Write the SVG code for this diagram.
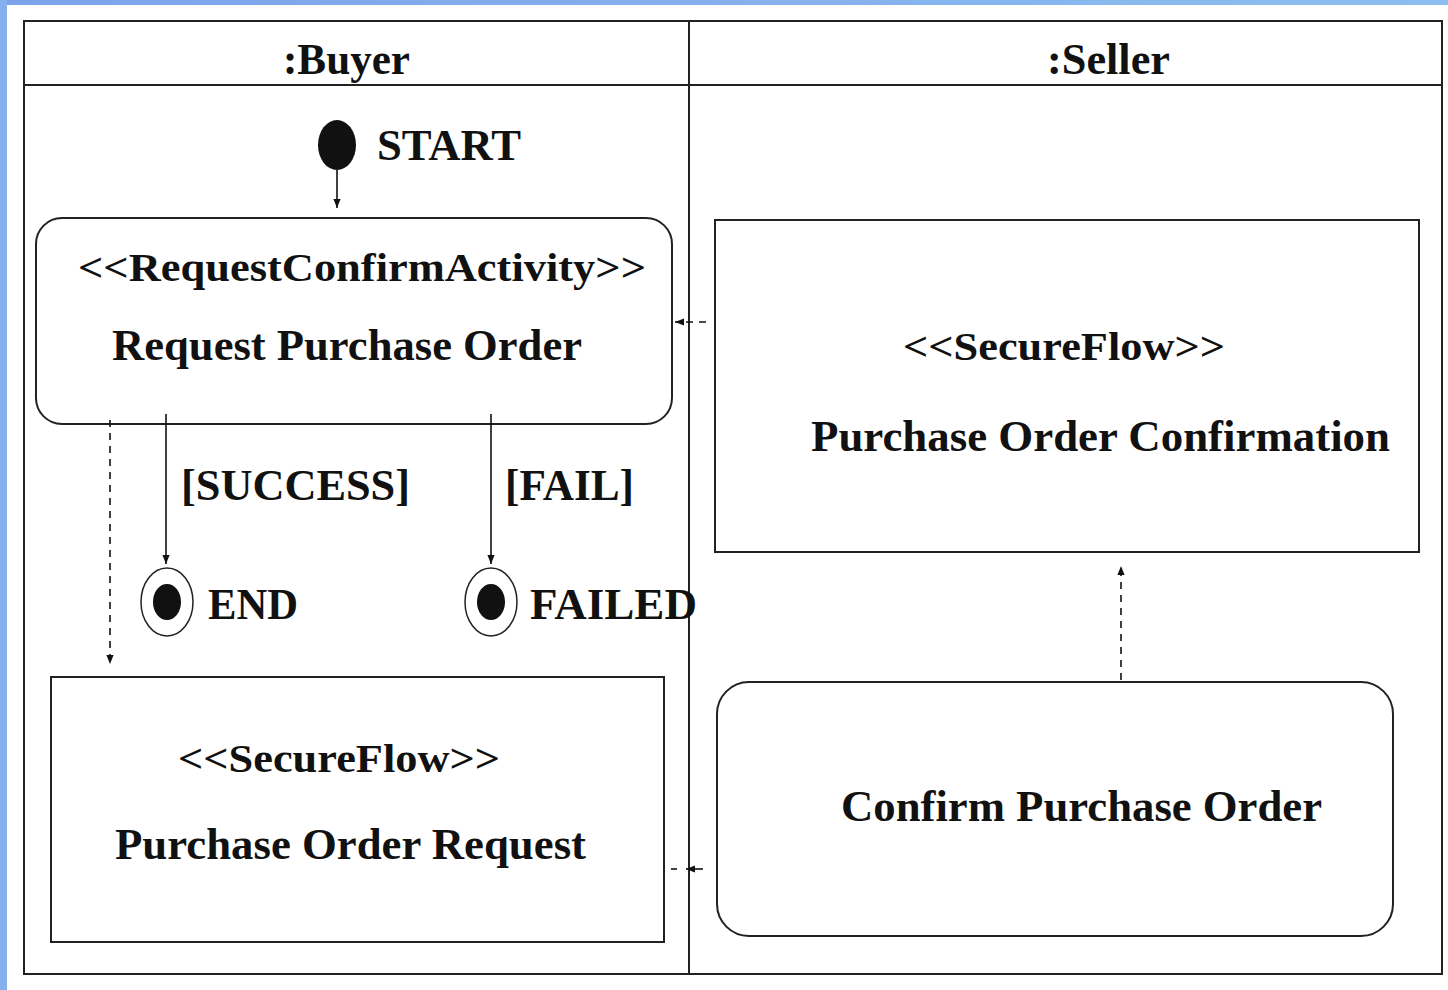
<svg xmlns="http://www.w3.org/2000/svg" width="1448" height="990" viewBox="0 0 1448 990">
<defs>
<linearGradient id="topg" x1="0" y1="0" x2="1" y2="0">
<stop offset="0" stop-color="#7ca3ea"/>
<stop offset="1" stop-color="#8dbef0"/>
</linearGradient>
<marker id="ah" viewBox="0 0 10 10" refX="10" refY="5" markerWidth="11" markerHeight="9" markerUnits="userSpaceOnUse" orient="auto">
<path d="M0,1 L10,5 L0,9 Z" fill="#111"/>
</marker>
<style>
.frame{fill:none;stroke:#222;stroke-width:2}
.box{fill:#fff;stroke:#222;stroke-width:2}
.t{font-family:"Liberation Serif","Times New Roman",serif;font-weight:bold;fill:#111}
.st{font-size:40px}
.nm{font-size:44px}
.solid{fill:none;stroke:#111;stroke-width:1.6}
.dash{fill:none;stroke:#111;stroke-width:1.6;stroke-dasharray:7,6}
</style>
</defs>
<rect x="0" y="0" width="1448" height="990" fill="#fff"/>
<rect x="0" y="0" width="1448" height="5" fill="url(#topg)"/>
<rect x="0" y="0" width="7" height="990" fill="#85b0ee"/>

<g id="swimlanes">
<rect class="frame" x="24" y="21" width="1418" height="953"/>
<line class="frame" x1="24" y1="85" x2="1442" y2="85"/>
<line class="frame" x1="689" y1="21" x2="689" y2="974"/>
<text class="t nm" x="283" y="74" textLength="127" lengthAdjust="spacingAndGlyphs">:Buyer</text>
<text class="t nm" x="1047" y="74" textLength="123" lengthAdjust="spacingAndGlyphs">:Seller</text>
</g>

<g id="start">
<ellipse cx="337" cy="145" rx="19" ry="25" fill="#111"/>
<text class="t nm" x="377" y="160" textLength="144" lengthAdjust="spacingAndGlyphs">START</text>
</g>

<g id="request-purchase-order">
<rect class="box" x="36" y="218" width="636" height="206" rx="26" ry="26"/>
<text class="t st" x="78" y="281" textLength="568" lengthAdjust="spacingAndGlyphs">&lt;&lt;RequestConfirmActivity&gt;&gt;</text>
<text class="t nm" x="112" y="360" textLength="470" lengthAdjust="spacingAndGlyphs">Request Purchase Order</text>
</g>

<g id="purchase-order-confirmation">
<rect class="box" x="715" y="220" width="704" height="332"/>
<text class="t st" x="903" y="360" textLength="322" lengthAdjust="spacingAndGlyphs">&lt;&lt;SecureFlow&gt;&gt;</text>
<text class="t nm" x="811" y="451" textLength="579" lengthAdjust="spacingAndGlyphs">Purchase Order Confirmation</text>
</g>

<g id="end">
<ellipse cx="167" cy="602" rx="26" ry="34" fill="#fff" stroke="#222" stroke-width="1.5"/>
<ellipse cx="167" cy="602" rx="14" ry="18" fill="#111"/>
<text class="t nm" x="208" y="619" textLength="90" lengthAdjust="spacingAndGlyphs">END</text>
</g>

<g id="failed">
<ellipse cx="491" cy="602" rx="26" ry="34" fill="#fff" stroke="#222" stroke-width="1.5"/>
<ellipse cx="491" cy="602" rx="14" ry="18" fill="#111"/>
<text class="t nm" x="530" y="619" textLength="167" lengthAdjust="spacingAndGlyphs">FAILED</text>
</g>

<g id="purchase-order-request">
<rect class="box" x="51" y="677" width="613" height="265"/>
<text class="t st" x="178" y="772" textLength="322" lengthAdjust="spacingAndGlyphs">&lt;&lt;SecureFlow&gt;&gt;</text>
<text class="t nm" x="115" y="859" textLength="471" lengthAdjust="spacingAndGlyphs">Purchase Order Request</text>
</g>

<g id="confirm-purchase-order">
<rect class="box" x="717" y="682" width="676" height="254" rx="32" ry="32"/>
<text class="t nm" x="841" y="821" textLength="481" lengthAdjust="spacingAndGlyphs">Confirm Purchase Order</text>
</g>

<g id="connectors">
<line class="solid" x1="337" y1="170" x2="337" y2="208" marker-end="url(#ah)"/>
<line class="solid" x1="166" y1="414" x2="166" y2="564" marker-end="url(#ah)"/>
<line class="solid" x1="491" y1="414" x2="491" y2="564" marker-end="url(#ah)"/>
<text class="t nm" x="181" y="500" textLength="229" lengthAdjust="spacingAndGlyphs">[SUCCESS]</text>
<text class="t nm" x="505" y="500" textLength="129" lengthAdjust="spacingAndGlyphs">[FAIL]</text>
<line class="dash" x1="110" y1="420" x2="110" y2="664" marker-end="url(#ah)"/>
<line class="dash" x1="1121" y1="680" x2="1121" y2="566" marker-end="url(#ah)"/>
<line class="dash" x1="706" y1="322" x2="675" y2="322" marker-end="url(#ah)"/>
<line class="dash" x1="671" y1="869" x2="677" y2="869"/>
<line class="solid" x1="703" y1="869" x2="686" y2="869" marker-end="url(#ah)"/>
</g>
</svg>
